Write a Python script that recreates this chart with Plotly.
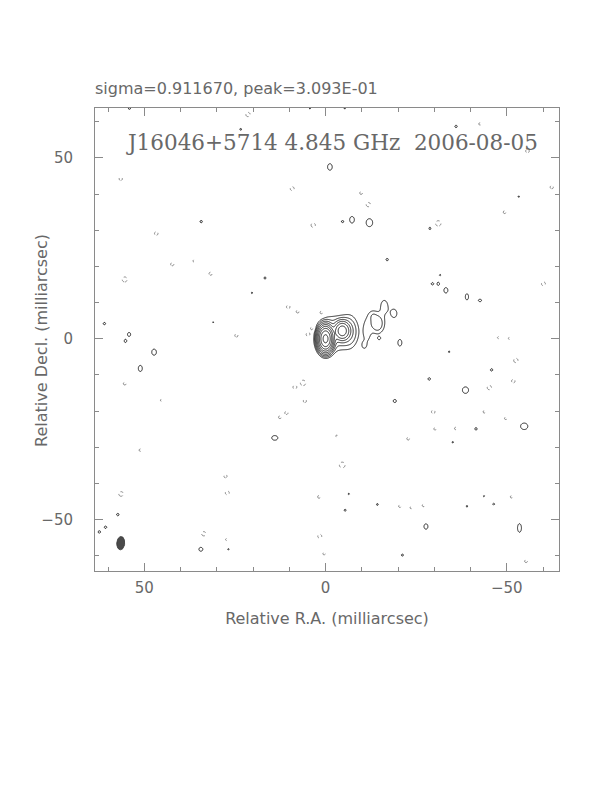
import numpy as np
import plotly.graph_objects as go

header_text = "sigma=0.911670, peak=3.093E-01"
title_text = "J16046+5714 4.845 GHz \u00a02006-08-05"
x_title = "Relative R.A. (milliarcsec)"
y_title = "Relative Decl. (milliarcsec)"

# map extent (mas) and contour levels (multiples of the lowest contour)
ra_limits = [63.6, -64.4]
dec_limits = [-64.2, 63.8]
level_exponents = [0, 1, 2, 3, 4, 5, 6, 7, 8]   # levels = 2**n (lowest = 1)

# source components: RA, Dec (mas), peak (lowest-contour units), FWHM RA, FWHM Dec (mas)
comp_ra = [0.0, -4.6, -6.6, -2.2, -14.3, -11.4, -16.2, -18.9, -10.6, -14.8, -20.5, -13.0]
comp_dec = [0.0, 2.2, 2.0, 1.4, 4.2, 2.2, 9.0, 7.0, -1.8, 0.1, -1.1, 6.5]
comp_peak = [330.0, 50.0, 3.5, 3.5, 3.4, 1.5, 1.5, 1.4, 1.25, 1.1, 1.4, 1.2]
comp_fwhm_ra = [2.2, 2.5, 3.6, 6.0, 3.0, 2.2, 2.4, 2.2, 1.2, 1.2, 1.6, 2.0]
comp_fwhm_dec = [3.7, 3.0, 6.4, 7.0, 4.2, 7.0, 4.2, 3.2, 1.8, 1.2, 2.6, 2.5]

# positive noise islands: RA, Dec, size RA, size Dec (mas)
pos_ra = [-1.2, 34.3, -4.7, -7.3, -12.1, -28.8, -17.0, 16.7, -29.5, -31.1, -33.2, -39.0,
          -42.6, 61.0, 54.2, 55.2, 47.3, 51.1, -45.8, -28.6, -38.6, -19.1, 14.0, -41.5,
          -54.8, -35.1, -6.4, -14.3, -5.4, -39.0, -46.4, -43.7, -27.7, -53.5, 57.3, 60.7,
          62.4, 34.4, 26.8, -21.2, -36.0, -53.3, -31.6, -34.1, 20.3, 31.0, 23.4, 54.1,
          4.3, -5.3]
pos_dec = [47.5, 32.4, 32.4, 32.9, 32.1, 30.5, 21.9, 16.8, 15.2, 15.2, 13.4, 11.6,
           10.6, 4.2, 1.2, -0.6, -3.7, -8.2, -8.6, -11.1, -14.2, -17.2, -27.4, -24.9,
           -24.2, -28.6, -42.9, -45.8, -47.4, -46.3, -45.7, -43.5, -51.9, -52.3, -48.6, -52.1,
           -53.4, -58.2, -58.2, -59.8, 58.7, 39.3, 17.6, -3.6, 12.7, 4.6, 57.9, 63.7,
           63.7, 63.7]
pos_size_ra = [1.3, 0.7, 0.7, 1.3, 1.8, 0.6, 0.7, 0.6, 0.7, 0.7, 1.1, 0.9,
               0.9, 0.7, 0.9, 0.7, 1.3, 1.1, 0.7, 0.7, 1.7, 0.9, 1.7, 0.7,
               2.0, 0.45, 0.45, 0.55, 0.6, 0.45, 0.55, 0.4, 1.1, 1.1, 0.7, 0.7,
               0.7, 1.1, 0.45, 0.6, 0.7, 0.45, 0.4, 0.45, 0.4, 0.35, 0.55, 0.6,
               0.4, 0.4]
pos_size_dec = [1.8, 0.7, 0.6, 1.8, 2.2, 0.7, 0.7, 0.6, 0.7, 0.9, 1.5, 1.7,
                0.7, 0.7, 1.1, 0.9, 1.7, 1.7, 0.7, 0.7, 1.8, 0.9, 1.3, 0.7,
                1.8, 0.45, 0.45, 0.55, 0.55, 0.45, 0.55, 0.4, 1.5, 2.4, 0.7, 0.7,
                0.7, 1.1, 0.45, 0.6, 0.7, 0.45, 0.45, 0.45, 0.45, 0.35, 0.55, 0.6,
                0.4, 0.4]

# negative noise islands: RA, Dec, size (mas)
neg_ra = [21.4, 56.5, 9.2, -9.8, -11.8, 3.4, -31.1, 46.7, -62.4, -49.4, 42.3, 36.3,
          31.7, 55.4, -60.1, 10.3, 7.7, 1.1, 4.8, 3.7, 24.6, -47.7, -50.7, -52.5,
          55.4, -51.8, -45.2, 8.5, 6.2, 5.7, 45.3, 10.8, 12.6, -29.7, -43.8, -49.7,
          -30.2, -35.9, -22.8, -3.1, 51.1, -4.6, 27.6, 27.1, 56.4, 1.8, -20.5, -23.6,
          -27.0, -51.3, 33.6, 27.3, 1.6, 0.4, -55.3, -55.7, -42.6]
neg_dec = [62.0, 44.2, 41.5, 40.3, 37.1, 31.4, 31.9, 29.1, 41.9, 35.0, 20.6, 21.5,
           18.0, 16.4, 15.2, 8.8, 7.5, 7.2, 1.2, 2.9, 0.9, 0.3, 0.1, -6.0,
           -12.4, -11.7, -13.5, -13.4, -12.2, -17.2, -17.0, -20.5, -21.7, -20.2, -20.2, -22.0,
           -24.9, -24.8, -27.6, -26.9, -30.8, -34.9, -38.0, -42.6, -42.9, -43.7, -46.3, -46.7,
           -46.1, -43.7, -53.9, -55.5, -54.6, -59.4, -61.5, 51.9, 59.4]
neg_size = [1.2, 0.9, 1.1, 0.8, 1.2, 1.2, 1.5, 1.0, 0.9, 0.8, 0.9, 0.6,
            0.9, 1.4, 1.1, 1.0, 0.8, 1.2, 1.2, 1.0, 0.9, 0.6, 0.6, 1.2,
            0.8, 1.0, 1.2, 1.0, 1.5, 0.9, 0.6, 0.9, 0.8, 1.0, 0.7, 0.7,
            0.7, 0.7, 0.8, 0.6, 0.7, 1.6, 0.9, 1.1, 1.3, 0.8, 0.7, 0.6,
            0.7, 0.7, 1.2, 0.6, 1.1, 0.7, 0.8, 1.0, 0.7]

# restoring beam: centre (mas), FWHM minor / major (mas), position angle (deg)
beam_ra, beam_dec = 56.5, -56.5
beam_minor, beam_major, beam_pa = 2.2, 3.7, -4.0

# ---------------- build the map on a pixel grid ----------------
step = 0.25
ra = np.arange(ra_limits[0] + 0.5, ra_limits[1] - 0.5, -step)
dec = np.arange(dec_limits[0] - 0.5, dec_limits[1] + 0.5, step)
RA, DEC = np.meshgrid(ra, dec)
K = 4.0 * np.log(2.0)
island_peak = 1.4
size_to_fwhm = 1.0 / np.sqrt(np.log2(island_peak))


def gauss(r0, d0, p, fr, fd):
    return p * np.exp(-K * (((RA - r0) / fr) ** 2 + ((DEC - d0) / fd) ** 2))


img = np.zeros_like(RA)
for r0, d0, p, fr, fd in zip(comp_ra, comp_dec, comp_peak, comp_fwhm_ra, comp_fwhm_dec):
    img += gauss(r0, d0, p, fr, fd)
for r0, d0, sr, sd in zip(pos_ra, pos_dec, pos_size_ra, pos_size_dec):
    img += gauss(r0, d0, island_peak, sr * size_to_fwhm, sd * size_to_fwhm)
for r0, d0, s in zip(neg_ra, neg_dec, neg_size):
    img -= gauss(r0, d0, island_peak, s * size_to_fwhm, s * size_to_fwhm)

floor = 2.0 ** -4
zpos = np.log2(np.clip(img, floor, None)).astype(np.float32)
zneg = np.log2(np.clip(-img, floor, None)).astype(np.float32)

fig = go.Figure()
fig.add_trace(go.Contour(
    x=ra, y=dec, z=zpos,
    contours=dict(start=level_exponents[0], end=level_exponents[-1],
                  size=1, coloring="none"),
    line=dict(color="#111111", width=0.9, smoothing=0),
    showscale=False, hoverinfo="skip"))
fig.add_trace(go.Contour(
    x=ra, y=dec, z=zneg,
    contours=dict(start=0, end=0.5, size=1, coloring="none"),
    line=dict(color="#666666", width=0.8, dash="dot", smoothing=0),
    showscale=False, hoverinfo="skip"))

# beam ellipse
t = np.linspace(0, 2 * np.pi, 60)
pa = np.deg2rad(beam_pa)
ex = 0.5 * beam_minor * np.cos(t)
ey = 0.5 * beam_major * np.sin(t)
bx = beam_ra + ex * np.cos(pa) + ey * np.sin(pa)
by = beam_dec - ex * np.sin(pa) + ey * np.cos(pa)
fig.add_trace(go.Scatter(x=bx, y=by, mode="lines", fill="toself",
                         fillcolor="#4a4a4a", line=dict(color="#333333", width=0.8),
                         hoverinfo="skip", showlegend=False))

text_color = "#686868"
axis_common = dict(
    showgrid=False, zeroline=False, showline=True, linecolor="#8a8a8a", linewidth=1,
    mirror="ticks", ticks="inside", ticklen=8, tickwidth=1, tickcolor="#8a8a8a",
    tick0=0, dtick=50,
    minor=dict(tick0=0, dtick=10, ticks="inside", ticklen=4, tickwidth=1,
               tickcolor="#8a8a8a", showgrid=False),
    tickfont=dict(family="DejaVu Sans", size=15, color=text_color),
)

# page body has an 8 px margin: figure is 604x784 so the plot box lands at 95..559 x 108..571
fig.update_layout(
    width=604, height=784, autosize=False,
    margin=dict(l=87, r=53, t=100, b=221, pad=0),
    paper_bgcolor="white", plot_bgcolor="white",
    showlegend=False,
    xaxis=dict(range=ra_limits, ticklabelstandoff=3,
               title=dict(text=x_title, standoff=16,
                          font=dict(family="DejaVu Sans", size=16, color=text_color)),
               **axis_common),
    yaxis=dict(range=dec_limits, ticklabelstandoff=18, **axis_common),
    annotations=[
        dict(text=header_text, xref="paper", yref="paper", x=-0.004, y=1.043,
             xanchor="left", yanchor="middle", showarrow=False,
             font=dict(family="DejaVu Sans", size=16, color=text_color)),
        dict(text=title_text, xref="paper", yref="paper", x=0.51, y=0.926,
             xanchor="center", yanchor="middle", showarrow=False,
             font=dict(family="DejaVu Serif", size=21.5, color=text_color)),
        dict(text=y_title, xref="paper", yref="paper", x=-0.1142, y=0.497,
             xanchor="center", yanchor="middle", textangle=-90, showarrow=False,
             font=dict(family="DejaVu Sans", size=16, color=text_color)),
    ],
)

fig.write_html("out.html")
